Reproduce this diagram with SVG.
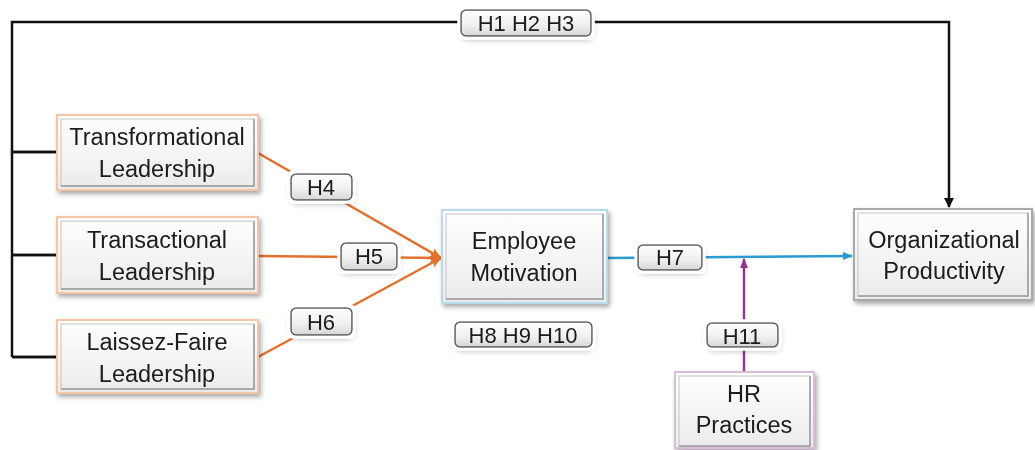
<svg xmlns="http://www.w3.org/2000/svg" width="1035" height="450" viewBox="0 0 1035 450">
<defs>
<linearGradient id="boxg" x1="0" y1="0" x2="0" y2="1">
<stop offset="0" stop-color="#ffffff"/><stop offset="1" stop-color="#ebebeb"/>
</linearGradient>
<linearGradient id="lblg" x1="0" y1="0" x2="0" y2="1">
<stop offset="0" stop-color="#ffffff"/><stop offset="0.6" stop-color="#efefef"/><stop offset="1" stop-color="#d6d6d6"/>
</linearGradient>
<filter id="sh" x="-10%" y="-10%" width="125%" height="130%">
<feGaussianBlur in="SourceAlpha" stdDeviation="2.5"/>
<feOffset dx="2" dy="3" result="b"/>
<feComponentTransfer><feFuncA type="linear" slope="0.35"/></feComponentTransfer>
<feMerge><feMergeNode/><feMergeNode in="SourceGraphic"/></feMerge>
</filter>
<filter id="glow" x="-20%" y="-40%" width="140%" height="190%">
<feMorphology in="SourceAlpha" operator="dilate" radius="3" result="d"/>
<feFlood flood-color="#ffffff"/>
<feComposite in2="d" operator="in" result="w"/>
<feGaussianBlur in="SourceAlpha" stdDeviation="3"/>
<feOffset dx="1" dy="3"/>
<feComponentTransfer><feFuncA type="linear" slope="0.3"/></feComponentTransfer>
<feMerge><feMergeNode/><feMergeNode in="w"/><feMergeNode in="SourceGraphic"/></feMerge>
</filter>
<marker id="ak" markerWidth="10" markerHeight="10" refX="9" refY="5" orient="auto" markerUnits="userSpaceOnUse"><path d="M0,0 L10,5 L0,10 z" fill="#111"/></marker>
<marker id="ao" markerWidth="12" markerHeight="12" refX="11" refY="6" orient="auto" markerUnits="userSpaceOnUse"><path d="M0,1 L12,6 L0,11 L3,6 z" fill="#E2712F"/></marker>
<marker id="ab" markerWidth="10" markerHeight="10" refX="9" refY="5" orient="auto" markerUnits="userSpaceOnUse"><path d="M0,1 L10,5 L0,9 z" fill="#2B9BD2"/></marker>
<marker id="ap" markerWidth="10" markerHeight="10" refX="9" refY="5" orient="auto" markerUnits="userSpaceOnUse"><path d="M0,1 L10,5 L0,9 z" fill="#93368F"/></marker>
</defs>
<style>
text{font-family:"Liberation Sans",Arial,sans-serif;fill:#1a1a1a;text-anchor:middle}
.nt{font-size:23.5px}
.lt{font-size:22px}
.box{fill:url(#boxg);stroke-width:2}
.inner{fill:none;stroke:#c4c4c4;stroke-width:1}
.bev{fill:none;stroke:#9a9a9a;stroke-width:1.5}
.lbl{fill:url(#lblg);stroke:#555;stroke-width:1.5}
.blk{stroke:#111;stroke-width:2.5;fill:none}
.org{stroke:#E2712F;stroke-width:2.5;fill:none}
.blu{stroke:#2B9BD2;stroke-width:2.5;fill:none}
.pur{stroke:#93368F;stroke-width:2.5;fill:none}
</style>
<rect width="1035" height="450" fill="#fff"/>
<g id="connectors">
<path class="blk" d="M57,152 H12 M57,255 H12 M57,357 H12 M12,357 V22 H949 V207" marker-end="url(#ak)"/>
<path class="blk" d="M57,152 H12 M57,255 H12 M57,357 H12"/>
<path class="org" d="M258,153 L441,258" marker-end="url(#ao)"/>
<path class="org" d="M258,256 L441,258" marker-end="url(#ao)"/>
<path class="org" d="M258,357 L441,258" marker-end="url(#ao)"/>
<path class="blu" d="M607,258 L852,256" marker-end="url(#ab)"/>
<path class="pur" d="M744,372 V259" marker-end="url(#ap)"/>
</g>
<g id="node-transformational" filter="url(#sh)">
<rect class="box" x="57" y="115" width="201" height="75" stroke="#F4C6A6"/>
<rect class="inner" x="61" y="119" width="193" height="67"/>
<path class="bev" d="M61,186 H254 V119"/>
<text class="nt" x="157" y="145">Transformational</text>
<text class="nt" x="157" y="177">Leadership</text>
</g>
<g id="node-transactional" filter="url(#sh)">
<rect class="box" x="57" y="217" width="201" height="76" stroke="#F4C6A6"/>
<rect class="inner" x="61" y="221" width="193" height="68"/>
<path class="bev" d="M61,289 H254 V221"/>
<text class="nt" x="157" y="248">Transactional</text>
<text class="nt" x="157" y="280">Leadership</text>
</g>
<g id="node-laissez" filter="url(#sh)">
<rect class="box" x="57" y="320" width="201" height="73" stroke="#F4C6A6"/>
<rect class="inner" x="61" y="324" width="193" height="65"/>
<path class="bev" d="M61,389 H254 V324"/>
<text class="nt" x="157" y="350">Laissez-Faire</text>
<text class="nt" x="157" y="382">Leadership</text>
</g>
<g id="node-motivation" filter="url(#sh)">
<rect class="box" x="442" y="210" width="165" height="93" stroke="#B3DDEE"/>
<rect class="inner" x="446" y="214" width="157" height="85"/>
<path class="bev" d="M446,299 H603 V214"/>
<text class="nt" x="524" y="249">Employee</text>
<text class="nt" x="524" y="281">Motivation</text>
</g>
<g id="node-productivity" filter="url(#sh)">
<rect class="box" x="854" y="209" width="178" height="91" stroke="#a8a8a8"/>
<rect class="inner" x="858" y="213" width="170" height="83"/>
<path class="bev" d="M858,296 H1028 V213"/>
<text class="nt" x="944" y="248">Organizational</text>
<text class="nt" x="944" y="279">Productivity</text>
</g>
<g id="node-hr" filter="url(#sh)">
<rect class="box" x="675" y="372" width="139" height="76" stroke="#D8BCD8"/>
<rect class="inner" x="679" y="376" width="131" height="70"/>
<path class="bev" d="M679,446 H810 V376"/>
<text class="nt" x="744" y="402">HR</text>
<text class="nt" x="744" y="433">Practices</text>
</g>
<g id="label-h123" filter="url(#glow)">
<rect class="lbl" x="461" y="10" width="130" height="26" rx="5"/>
<text class="lt" x="526" y="31">H1 H2 H3</text>
</g>
<g id="label-h4" filter="url(#glow)">
<rect class="lbl" x="291" y="174" width="61" height="26" rx="5" stroke="#7a5a4a"/>
<text class="lt" x="321" y="195">H4</text>
</g>
<g id="label-h5" filter="url(#glow)">
<rect class="lbl" x="341" y="243" width="56" height="27" rx="5" stroke="#7a5a4a"/>
<text class="lt" x="369" y="264">H5</text>
</g>
<g id="label-h6" filter="url(#glow)">
<rect class="lbl" x="291" y="308" width="61" height="27" rx="5" stroke="#7a5a4a"/>
<text class="lt" x="321" y="330">H6</text>
</g>
<g id="label-h7" filter="url(#glow)">
<rect class="lbl" x="638" y="245" width="64" height="25" rx="5" stroke="#4a6a7a"/>
<text class="lt" x="670" y="265">H7</text>
</g>
<g id="label-h8910" filter="url(#glow)">
<rect class="lbl" x="455" y="322" width="137" height="25" rx="5" stroke="#4a6a7a"/>
<text class="lt" x="523" y="343">H8 H9 H10</text>
</g>
<g id="label-h11" filter="url(#glow)">
<rect class="lbl" x="707" y="323" width="71" height="24" rx="5" stroke="#6a4a6a"/>
<text class="lt" x="742" y="344">H11</text>
</g>
</svg>
